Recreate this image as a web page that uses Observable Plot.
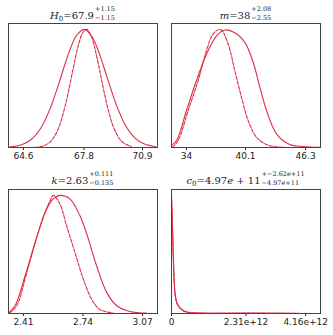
<!DOCTYPE html>
<html><head><meta charset="utf-8">
<script src="https://cdn.jsdelivr.net/npm/d3@7"></script>
<script src="https://cdn.jsdelivr.net/npm/@observablehq/plot@0.6"></script>
<style>
body{margin:0;background:#fff;width:333px;height:335px;position:relative;overflow:hidden}
.p{position:absolute}
.t{position:absolute;font-family:"DejaVu Serif";font-size:10px;line-height:12px;white-space:nowrap;transform:translateX(-50%);color:#222}
.t i{font-style:italic}
.sb{font-size:7px;position:relative;top:2px}
.ss{display:inline-block;vertical-align:-1px;font-size:6.5px;line-height:8.5px;text-align:left;margin-left:1px;color:#222}
.ss span{display:block}
</style>
</head><body>
<script>
// Panel 1: H0
const h0Ticks = [64.6, 67.8, 70.9];
const h0TickLabels = ["64.6", "67.8", "70.9"];
const h0SolidX = [63.9, 64.5, 65.0, 65.5, 66.0, 66.5, 67.0, 67.4, 67.8, 68.2, 68.6, 69.0, 69.5, 70.0, 70.5, 71.0, 71.6];
const h0SolidY = [0.005, 0.023, 0.066, 0.159, 0.325, 0.556, 0.801, 0.946, 1.0, 0.946, 0.801, 0.607, 0.367, 0.186, 0.080, 0.029, 0.007];
const h0DashX = [65.2, 65.6, 66.0, 66.4, 66.8, 67.2, 67.5, 67.75, 67.95, 68.2, 68.5, 68.8, 69.1, 69.4, 69.8, 70.3];
const h0DashY = [0.002, 0.011, 0.045, 0.143, 0.347, 0.646, 0.862, 0.976, 1.0, 0.936, 0.753, 0.520, 0.309, 0.158, 0.051, 0.008];

// Panel 2: m
const mTicks = [34, 40.1, 46.3];
const mTickLabels = ["34", "40.1", "46.3"];
const mSolidX = [32.46, 32.98, 34.01, 35.04, 36.07, 37.11, 37.97, 38.99, 40.03, 40.89, 41.58, 42.27, 43.30, 44.67, 46.05, 47.77];
const mSolidY = [0.02, 0.059, 0.313, 0.567, 0.79, 0.945, 0.995, 0.972, 0.89, 0.722, 0.511, 0.313, 0.116, 0.025, 0.008, 0.001];
const mDashX = [32.56, 33.14, 34.18, 35.21, 36.07, 36.77, 37.52, 38.30, 38.99, 39.68, 40.37, 41.23, 42.26, 43.63, 45.35];
const mDashY = [0.003, 0.059, 0.313, 0.567, 0.82, 0.963, 1.0, 0.878, 0.652, 0.426, 0.229, 0.087, 0.025, 0.003, 0.0];

// Panel 3: k
const kTicks = [2.41, 2.74, 3.07];
const kTickLabels = ["2.41", "2.74", "3.07"];
const kSolidX = [2.3277, 2.3646, 2.42, 2.4753, 2.5307, 2.575, 2.6119, 2.6673, 2.7226, 2.7632, 2.8149, 2.8703, 2.9256, 2.9994, 3.0917];
const kSolidY = [0.003, 0.068, 0.322, 0.604, 0.858, 0.971, 1.0, 0.971, 0.830, 0.661, 0.406, 0.181, 0.068, 0.017, 0.003];
const kDashX = [2.333, 2.3738, 2.4292, 2.4846, 2.5307, 2.5584, 2.575, 2.6119, 2.6488, 2.695, 2.7411, 2.7872, 2.8333, 2.9072];
const kDashY = [0.003, 0.068, 0.350, 0.646, 0.858, 0.957, 1.0, 0.929, 0.745, 0.519, 0.294, 0.124, 0.034, 0.003];

// Panel 4: c0
const cTicks = [0, 2.31e12, 4.16e12];
const cTickLabels = ["0", "2.31e+12", "4.16e+12"];
const cSolidX = [0, 0.03e12, 0.06e12, 0.1e12, 0.15e12, 0.22e12, 0.3e12, 0.45e12, 0.7e12, 1.2e12, 2.3e12, 3.5e12, 4.6e12];
const cSolidY = [1.0, 0.75, 0.45, 0.2, 0.11, 0.065, 0.04, 0.015, 0.005, 0.002, 0.003, 0.001, 0.0];
const cDashX = [0, 0.03e12, 0.06e12, 0.1e12, 0.15e12, 0.22e12, 0.3e12, 0.45e12, 0.7e12, 1.2e12, 2.3e12, 3.5e12, 4.6e12];
const cDashY = [0.98, 0.72, 0.43, 0.19, 0.10, 0.06, 0.035, 0.013, 0.004, 0.002, 0.002, 0.001, 0.0];

const RED = "#dd2c47";

function pts(xs, ys) { return xs.map((x, i) => ({x, y: ys[i]})); }

function panel(o) {
  const svg = Plot.plot({
    width: o.w, height: o.h,
    marginLeft: 8, marginRight: o.w - 157, marginTop: o.mt, marginBottom: o.mb,
    x: {domain: o.domain, ticks: o.ticks, tickFormat: d => o.labels[o.ticks.indexOf(d)], tickSize: 3, tickPadding: 2, label: null},
    y: {domain: [0, 1.05], axis: null},
    style: {fontFamily: "DejaVu Sans", fontSize: "9px", color: "#222", background: "transparent", overflow: "visible"},
    marks: [
      Plot.line(pts(o.dx, o.dy), {x: "x", y: "y", stroke: RED, strokeWidth: 1.1, strokeDasharray: "3.5,1.5", curve: o.curve || "catmull-rom"}),
      Plot.line(pts(o.sx, o.sy), {x: "x", y: "y", stroke: RED, strokeWidth: 1.1, curve: o.curve || "catmull-rom"}),
      Plot.frame({stroke: "#444"})
    ]
  });
  const d = document.createElement("div");
  d.className = "p";
  d.style.left = o.left + "px";
  d.style.top = o.top + "px";
  d.appendChild(svg);
  document.body.appendChild(d);
  const t = document.createElement("div");
  t.className = "t";
  t.style.left = (o.left + 82.5) + "px";
  t.style.top = o.ttop + "px";
  t.innerHTML = o.title;
  document.body.appendChild(t);
}

panel({left: 0, top: 0, w: 163, h: 165, mt: 23, mb: 18, ttop: 5, domain: [63.81, 71.69], ticks: h0Ticks, labels: h0TickLabels,
  sx: h0SolidX, sy: h0SolidY, dx: h0DashX, dy: h0DashY,
  title: '<i>H</i><span class="sb">0</span>=67.9<span class="ss"><span>+1.15</span><span>−1.15</span></span>'});
panel({left: 163, top: 0, w: 170, h: 165, mt: 23, mb: 18, ttop: 5, domain: [32.46, 47.84], ticks: mTicks, labels: mTickLabels,
  sx: mSolidX, sy: mSolidY, dx: mDashX, dy: mDashY,
  title: '<i>m</i>=38<span class="ss"><span>+2.08</span><span>−2.55</span></span>'});
panel({left: 0, top: 165, w: 163, h: 170, mt: 24, mb: 22, ttop: 170, domain: [2.3275, 3.1525], ticks: kTicks, labels: kTickLabels,
  sx: kSolidX, sy: kSolidY, dx: kDashX, dy: kDashY,
  title: '<i>k</i>=2.63<span class="ss"><span>+0.111</span><span>−0.135</span></span>'});
panel({left: 163, top: 165, w: 170, h: 170, mt: 24, mb: 22, ttop: 170, domain: [0, 4.62e12], ticks: cTicks, labels: cTickLabels,
  sx: cSolidX, sy: cSolidY, dx: cDashX, dy: cDashY, curve: "monotone-x",
  title: '<i>c</i><span class="sb">0</span>=4.97<i>e</i> + 11<span class="ss"><span>+−2.62<i>e</i>+11</span><span>−4.97<i>e</i>+11</span></span>'});
</script>
</body></html>
